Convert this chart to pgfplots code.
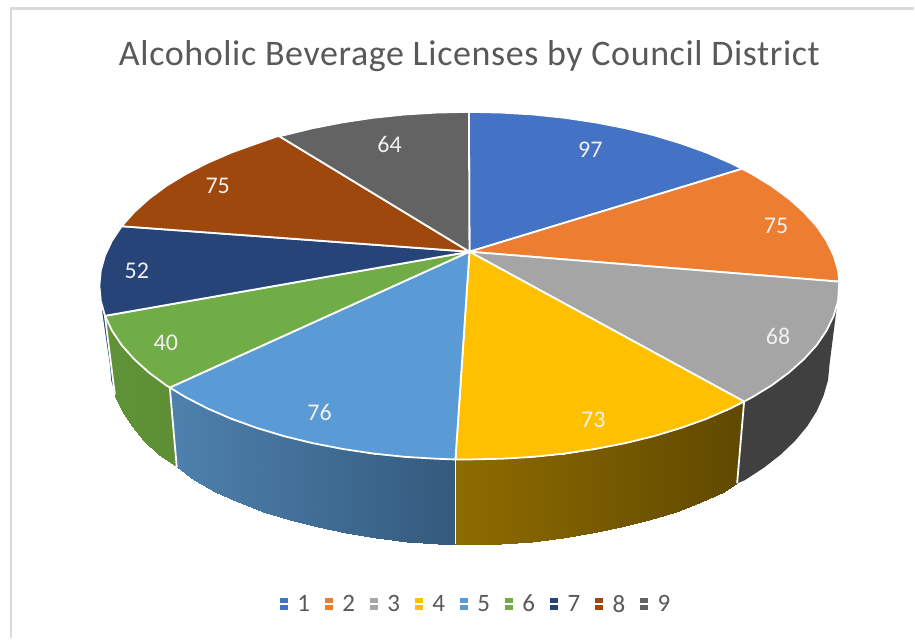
\documentclass[border=0pt]{standalone}
\usepackage{pgfplots}
\pgfplotsset{compat=1.18}
\usepackage{fontspec}
\setmainfont{Carlito}
\newfontfamily\titlefont[LetterSpace=1.7]{Carlito}
\definecolor{c1}{HTML}{4472C4}
\definecolor{c2}{HTML}{ED7D31}
\definecolor{c3}{HTML}{A5A5A5}
\definecolor{c4}{HTML}{FFC000}
\definecolor{c5}{HTML}{5B9BD5}
\definecolor{c6}{HTML}{70AD47}
\definecolor{c7}{HTML}{264478}
\definecolor{c8}{HTML}{9E480E}
\definecolor{c9}{HTML}{636363}
\definecolor{txt}{HTML}{595959}
\definecolor{frame}{HTML}{DADADA}
\begin{document}
\begin{tikzpicture}
\begin{axis}[
  width=915pt,height=639pt,scale only axis,
  xmin=0,xmax=915,ymin=0,ymax=639,y dir=reverse,
  hide axis,clip=false,
  point meta rel=per plot,
  legend columns=9,
  legend style={at={(0.5202,0.0532)},anchor=center,draw=none,fill=none,
    font=\fontsize{25}{25}\selectfont\color{txt},
    /tikz/every even column/.append style={column sep=11.6pt},
    /tikz/every odd column/.append style={column sep=0pt}},
  legend image code/.code={\fill[#1,draw=none,line width=0pt] (0pt,-6pt) rectangle (8.5pt,6pt);\path (0pt,0pt) -- (15pt,0pt);},
  wedge/.style={fill=#1,draw=white,line width=1.8pt,line join=round},
  edge/.style={draw=white,line width=1.8pt,forget plot},
]
% background and frame
\addplot[fill=white,draw=none,forget plot] coordinates {(0,0)(915,0)(915,639)(0,639)} -- cycle;
\addplot[draw=frame,line width=2.2pt,forget plot] coordinates {(11,639)(11,8.5)(915,8.5)};

% side faces
\addplot[fill=c7!95!black,draw=none,forget plot] coordinates {(102,310)(106,318)(114.5,392)(111.4,380.7)(110,365)} -- cycle;
\addplot[surf,shader=interp,mesh/cols=2,point meta=x,forget plot,colormap={g}{rgb255=(95,147,54) rgb255=(94,142,53)}] coordinates {
(105,316)(115.5,396.2)
(112.1,331)(122.3,411.6)
(121.8,345.5)(131.7,426.6)
(134.2,359.5)(143.7,441.1)
(149.1,373)(158.2,455)
(170,388)(177,468)
};
\addplot[surf,shader=interp,mesh/cols=2,point meta=x,forget plot,colormap={b}{rgb255=(78,129,174) rgb255=(52,90,124)}] coordinates {
(170,388)(177,468)
(186.1,397.8)(194.2,480.7)
(207.9,409)(215.4,492.3)
(231.7,419.3)(238.6,502.9)
(257.3,428.5)(263.5,512.5)
(284.5,436.7)(290,520.9)
(313.1,443.7)(317.9,528.1)
(343,449.5)(346.9,534.1)
(373.7,454.1)(376.8,538.9)
(405.3,457.4)(407.5,542.3)
(437.2,459.3)(438.6,544.3)
(456,460)(456,545)
};
\addplot[surf,shader=interp,mesh/cols=2,point meta=x,forget plot,colormap={y}{rgb255=(143,108,0) rgb255=(95,72,0)}] coordinates {
(456,460)(456,545)
(469.5,460)(470,545)
(501.8,459.3)(501.4,544.3)
(533.7,457.4)(532.5,542.3)
(565.3,454.1)(563.2,538.9)
(596,449.5)(593.1,534.1)
(625.9,443.7)(622.1,528.1)
(654.5,436.7)(650,520.9)
(681.7,428.5)(676.5,512.5)
(707.3,419.3)(701.4,502.9)
(731.1,409)(724.6,492.3)
(745,402)(738,484)
};
\addplot[fill=black!75,draw=none,forget plot] coordinates {
(745,402)(752.9,397.8)(772.6,385.8)(789.9,373)(804.8,359.5)(817.2,345.5)(826.9,331)(833.9,316.2)(838,306)
(830.5,365)(829,380.7)(824.5,396.2)(817.7,411.6)(808.3,426.6)(796.3,441.1)(781.8,455)(764.9,468.2)(745.8,480.7)(738,484)} -- cycle;
% separators on the side
\addplot[edge] coordinates {(745,402)(738,484)};
\addplot[edge] coordinates {(456,460)(456,545)};
\addplot[edge] coordinates {(170,388)(177,468)};
\addplot[edge] coordinates {(105,316)(115,395)};

% top faces
\addplot[wedge=c1] coordinates {(470,252)(469.5,112)(501.8,112.7)(533.7,114.6)(565.3,117.9)(596,122.5)(625.9,128.3)(654.5,135.3)(681.7,143.5)(707.3,152.7)(731.1,163)(743,169)} -- cycle;
\addlegendentry{1}
\addplot[wedge=c2] coordinates {(470,252)(743,169)(752.9,174.2)(772.6,186.2)(789.9,199)(805,212.5)(817.7,226.5)(827.5,241)(834.7,255.8)(839.1,270.8)(840.3,282)} -- cycle;
\addlegendentry{2}
\addplot[wedge=c3] coordinates {(470,252)(840.3,282)(839.1,301.2)(834.7,316.2)(827.5,331)(817.7,345.5)(805,359.5)(789.9,373)(772.6,385.8)(752.9,397.8)(745,402)} -- cycle;
\addlegendentry{3}
\addplot[wedge=c4] coordinates {(470,252)(745,402)(731.1,409)(707.3,419.3)(681.7,428.5)(654.5,436.7)(625.9,443.7)(596,449.5)(565.3,454.1)(533.7,457.4)(501.8,459.3)(469.5,460)(456,460)} -- cycle;
\addlegendentry{4}
\addplot[wedge=c5] coordinates {(470,252)(456,460)(437.2,459.3)(405.3,457.4)(373.7,454.1)(343,449.5)(313.1,443.7)(284.5,436.7)(257.3,428.5)(231.7,419.3)(207.9,409)(186.1,397.8)(170,388)} -- cycle;
\addlegendentry{5}
\addplot[wedge=c6] coordinates {(470,252)(170,388)(166.4,385.8)(149.1,373)(134.2,359.5)(121.8,345.5)(112.1,331)(105.1,316.2)} -- cycle;
\addlegendentry{6}
\addplot[wedge=c7] coordinates {(470,252)(105.1,316.2)(100.9,301.2)(99.5,286)(100.9,270.8)(105.1,255.8)(112.1,241)(121.8,226.5)} -- cycle;
\addlegendentry{7}
\addplot[wedge=c8] coordinates {(470,252)(121.8,226.5)(134.2,212.5)(149.1,199)(166.4,186.2)(186.1,174.2)(207.9,163)(231.7,152.7)(257.3,143.5)(279,136)} -- cycle;
\addlegendentry{8}
\addplot[wedge=c9] coordinates {(470,252)(279,136)(284.5,135.3)(313.1,128.3)(343,122.5)(373.7,117.9)(405.3,114.6)(437.2,112.7)(469.5,112)} -- cycle;
\addlegendentry{9}

% data labels
\addplot[draw=none,forget plot,point meta=explicit symbolic,
  nodes near coords,
  every node near coord/.append style={anchor=center,inner sep=0pt,text=white!94!black,font=\fontsize{24}{24}\selectfont}]
  table[meta=v] {
x y v
591 150 97
777 226 75
779 337 68
594 420 73
320 413 76
166 343 40
137 271 52
218 186 75
390 145 64
};
\node[anchor=base,text=txt,font=\titlefont\fontsize{36}{36}\selectfont] at (axis cs:470,65.5) {Alcoholic Beverage Licenses by Council District};
\end{axis}
\end{tikzpicture}
\end{document}
